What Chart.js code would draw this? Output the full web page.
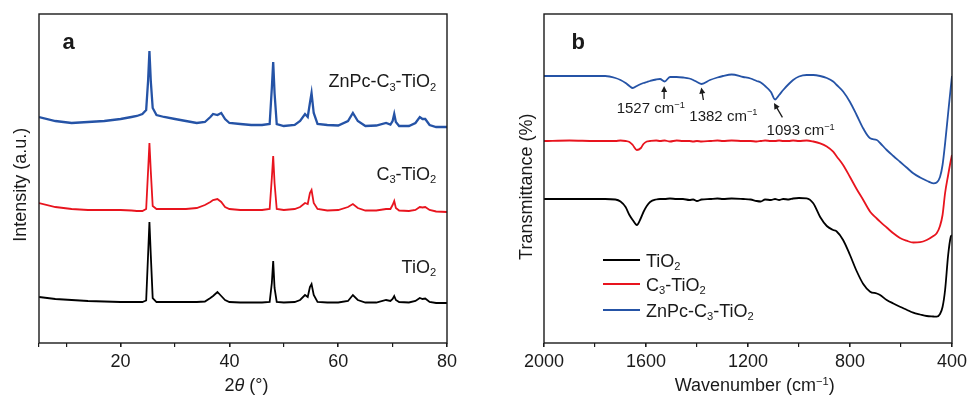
<!DOCTYPE html>
<html lang="en">
<head>
  <meta charset="UTF-8" />
  <title>XRD and FTIR of TiO2 samples</title>
  <style>
    html, body { margin: 0; padding: 0; background: #fff; }
    #wrap { position: relative; width: 971px; height: 395px; }
    .panel { position: absolute; top: 0; height: 395px; }
    #panelA { left: 0; width: 485px; }
    #panelB { left: 485px; width: 486px; }
  </style>
</head>
<body>
  <div id="wrap">
    <div class="panel" id="panelA"><canvas id="xrdChart" width="485" height="395"></canvas></div>
    <div class="panel" id="panelB"><canvas id="ftirChart" width="486" height="395"></canvas></div>
  </div>

  <script src="https://cdn.jsdelivr.net/npm/chart.js"></script>
  <script>
    // ---- data (stacked intensities in a.u.) ----
    const sampleNames = ['TiO_2', 'C_3-TiO_2', 'ZnPc-C_3-TiO_2'];

    const xrdAngle = [5, 8, 11, 14, 17, 20, 22, 23, 24, 24.7, 25.05, 25.3, 25.55, 25.9, 26.6, 28, 30, 32, 34, 35.5,
      36.5, 37, 37.8, 38.5, 39.2, 40, 42, 44, 46, 47.4, 47.8, 48.05, 48.3, 48.7, 50, 52, 53, 53.9, 54.4, 54.8,
      55.1, 55.5, 56.2, 58, 60, 61.8, 62.7, 63.6, 65, 67, 68.8, 69.6, 70, 70.3, 70.6, 71.2, 73, 74.2, 75, 75.5,
      76, 76.8, 78, 80];
    const xrdTiO2 = [46, 44, 43, 42, 41.5, 41, 41, 41, 41, 42.5, 88, 121, 88, 45, 41, 41, 41, 41, 41, 41.5,
      45, 47, 51, 47, 43, 41, 40.5, 40.5, 40.5, 41, 60, 82, 55, 41, 40.5, 41, 43, 48, 46, 56,
      59, 48, 41, 40.5, 40.5, 42, 48, 43, 40.5, 40.5, 43, 42, 44, 47, 43, 41, 40.5, 42, 45, 44,
      44.5, 41, 40, 40];
    const xrdC3TiO2 = [140, 136, 134, 133, 133, 133, 132.5, 132, 132, 134, 172, 200, 172, 137, 134, 134, 134, 134, 135, 138,
      141, 143, 144, 141, 136, 134, 133, 133, 133, 134, 165, 187, 160, 134, 133, 134, 136, 140, 139, 150,
      153, 140, 134, 132.5, 133, 136, 139, 135, 132.5, 132.5, 134, 134, 138, 142, 135, 132.5, 132, 133, 136, 135.5,
      136, 133, 131.5, 131];
    const xrdZnPc = [226, 222, 220, 221, 222, 224, 226, 227, 229, 233, 262, 292, 262, 235, 228, 226, 224, 222, 220, 221,
      226, 229, 228, 230, 224, 220, 219, 218, 218, 219, 255, 281, 250, 219, 217, 218, 222, 229, 226, 240,
      250, 230, 219, 218, 217.5, 222, 230, 222, 217, 217.5, 220, 218.5, 222, 229, 221, 217, 217, 220, 226, 224,
      224, 218, 216, 216];

    const ftirWave = [2000, 1900, 1800, 1760, 1720, 1700, 1680, 1665, 1652, 1636, 1620, 1610, 1597, 1584, 1560,
      1545, 1527, 1506, 1480, 1455, 1430, 1415, 1400, 1382, 1349, 1320, 1298, 1264, 1219, 1190, 1166, 1150,
      1133, 1110, 1094, 1078, 1062, 1040, 1023, 1000, 970, 944, 917, 891, 866, 852, 827, 800, 774, 748, 721,
      695, 682, 656, 630, 604, 578, 552, 525, 499, 473, 460, 447, 437, 427, 415, 405, 400];
    const ftirTiO2 = [144, 144, 144, 144, 143.5, 141.5, 136, 128, 123, 118, 125, 131, 137, 141, 143.5,
      144, 144, 144.5, 144, 144, 143, 143.5, 142, 143.5, 144, 144.5, 144, 144.5, 144, 143.5, 142, 141.5,
      143.5, 143, 144, 143, 144, 143.5, 144.5, 145, 144.7, 139.7, 126, 117, 113, 111.5, 103, 88, 72, 59, 51.3,
      49.5, 48, 43, 39.5, 36.3, 33.3, 30.3, 28.5, 27, 26.5, 26.3, 29, 36, 53, 88, 106, 108];
    const ftirC3TiO2 = [202, 202.5, 202, 202, 202, 202.5, 202, 201, 198, 193, 195, 199, 201.5, 202, 202.5,
      202, 202.5, 201.5, 202.5, 202, 202, 201.5, 202, 201.5, 202, 202.5, 202, 202.5, 202, 202, 201.5, 202,
      202.5, 202, 202, 202.5, 202, 202, 202.5, 202, 202.5, 201.5, 199.7, 196.5, 191.3, 186.5, 178, 166, 154, 143, 131.3,
      124.5, 121.3, 115.5, 109.7, 105, 102.3, 100.5, 100.8, 103, 107, 109.7, 117, 128, 150, 168, 182, 188];
    const ftirZnPc = [267, 267, 267, 267, 265, 263, 260, 257, 255, 257, 259, 260, 261, 262, 263.5,
      264, 261.5, 266, 266, 265.5, 264.5, 263, 261, 259, 263, 265.5, 267, 268.5, 266, 264.5, 262, 260.5,
      257, 251, 243.5, 248, 253, 259, 263, 266.5, 268, 268, 267, 265, 261.5, 258, 251.5, 241, 228, 214.5, 204.7,
      203, 200, 193, 187, 181.3, 175.5, 169.7, 165.5, 162.3, 159.7, 160.5, 166, 178, 199.7, 230, 255, 267];

    const ftirBands = [1527, 1382, 1093];

    // ---- helpers ----
    const FONT = '"Liberation Sans", Arial, sans-serif';
    const INK = '#1a1a1a';
    const COLORS = ['#000000', '#e8141e', '#2553a6'];

    function pairs(xs, ys) { return xs.map((x, i) => ({ x: x, y: ys[i] })); }

    // tiny markup: _x subscript, ^{..} superscript, ~{..} italic
    function parseRich(str) {
      const segs = [];
      let i = 0;
      while (i < str.length) {
        const c = str[i];
        if (c === '_' || c === '^' || c === '~') {
          let t;
          if (str[i + 1] === '{') { const j = str.indexOf('}', i); t = str.slice(i + 2, j); i = j + 1; }
          else { t = str[i + 1]; i += 2; }
          segs.push({ t: t, mode: c === '_' ? 'sub' : c === '^' ? 'sup' : 'it' });
        } else {
          let j = i;
          while (j < str.length && '_^~'.indexOf(str[j]) < 0) j++;
          segs.push({ t: str.slice(i, j), mode: 'n' });
          i = j;
        }
      }
      return segs;
    }

    function drawRich(ctx, str, x, y, opt) {
      const size = opt.size;
      const segs = parseRich(str);
      const fontFor = s => (s.mode === 'it' ? 'italic ' : '') + (opt.bold ? 'bold ' : '') +
        ((s.mode === 'sub' || s.mode === 'sup') ? size * 0.62 : size) + 'px ' + FONT;
      ctx.save();
      ctx.translate(x, y);
      if (opt.rotate) ctx.rotate(opt.rotate);
      ctx.textBaseline = 'alphabetic';
      ctx.textAlign = 'left';
      ctx.fillStyle = opt.color || INK;
      let w = 0;
      segs.forEach(s => { ctx.font = fontFor(s); s.w = ctx.measureText(s.t).width; w += s.w; });
      let cx = opt.align === 'right' ? -w : opt.align === 'center' ? -w / 2 : 0;
      segs.forEach(s => {
        ctx.font = fontFor(s);
        const dy = s.mode === 'sub' ? size * 0.18 : s.mode === 'sup' ? -size * 0.36 : 0;
        ctx.fillText(s.t, cx, dy);
        cx += s.w;
      });
      ctx.restore();
    }

    function drawFrame(ctx, a) {
      ctx.save();
      ctx.strokeStyle = INK;
      ctx.lineWidth = 1.4;
      ctx.strokeRect(a.left, a.top, a.right - a.left, a.bottom - a.top);
      ctx.restore();
    }

    function arrow(ctx, x1, y1, x2, y2) {
      const ang = Math.atan2(y2 - y1, x2 - x1);
      const hl = 6, hw = 3;
      ctx.save();
      ctx.strokeStyle = INK;
      ctx.fillStyle = INK;
      ctx.lineWidth = 1.3;
      ctx.beginPath();
      ctx.moveTo(x1, y1);
      ctx.lineTo(x2 - Math.cos(ang) * hl * 0.8, y2 - Math.sin(ang) * hl * 0.8);
      ctx.stroke();
      ctx.beginPath();
      ctx.moveTo(x2, y2);
      ctx.lineTo(x2 - Math.cos(ang) * hl - Math.sin(ang) * hw, y2 - Math.sin(ang) * hl + Math.cos(ang) * hw);
      ctx.lineTo(x2 - Math.cos(ang) * hl + Math.sin(ang) * hw, y2 - Math.sin(ang) * hl - Math.cos(ang) * hw);
      ctx.closePath();
      ctx.fill();
      ctx.restore();
    }

    function xAxis(min, max, step, every, reverse) {
      return {
        type: 'linear', min: min, max: max, reverse: !!reverse,
        afterFit: s => { s.height = 52; },
        border: { display: false },
        grid: {
          display: true, drawOnChartArea: false, drawTicks: true, tickLength: 4, color: INK,
          lineWidth: c => (c.tick && c.tick.value % every === 0 ? 1.6 : 1.2)
        },
        ticks: {
          stepSize: step, autoSkip: false, maxRotation: 0, padding: 4, color: INK,
          font: { family: FONT, size: 18 },
          callback: v => (v % every === 0 ? String(v) : '')
        }
      };
    }

    Chart.defaults.font.family = FONT;

    // ---- panel a: XRD ----
    const xrdDecor = {
      id: 'xrdDecor',
      afterDraw(chart) {
        const { ctx, chartArea: a, scales: { x, y } } = chart;
        drawFrame(ctx, a);
        drawRich(ctx, 'a', a.left + 23.5, a.top + 35, { size: 22, bold: true });
        const labelY = [70.3, 163, 255.7];
        sampleNames.forEach((n, i) => {
          drawRich(ctx, n, x.getPixelForValue(78), y.getPixelForValue(labelY[i]), { size: 18, align: 'right' });
        });
        drawRich(ctx, '2~{θ} (°)', 246.5, 391, { size: 18, align: 'center' });
        drawRich(ctx, 'Intensity (a.u.)', 26.2, 184.7, { size: 18, align: 'center', rotate: -Math.PI / 2 });
      }
    };

    new Chart(document.getElementById('xrdChart'), {
      type: 'line',
      data: {
        datasets: [
          { label: sampleNames[0], data: pairs(xrdAngle, xrdTiO2), borderColor: COLORS[0], borderWidth: 1.8 },
          { label: sampleNames[1], data: pairs(xrdAngle, xrdC3TiO2), borderColor: COLORS[1], borderWidth: 1.8 },
          { label: sampleNames[2], data: pairs(xrdAngle, xrdZnPc), borderColor: COLORS[2], borderWidth: 2.3 }
        ]
      },
      options: {
        responsive: false,
        animation: false,
        layout: { padding: { left: 39, right: 38, top: 14, bottom: 0 } },
        elements: { point: { radius: 0 }, line: { tension: 0, fill: false } },
        plugins: { legend: { display: false }, tooltip: { enabled: false } },
        scales: {
          x: xAxis(5, 80, 10, 20, false),
          y: { display: false, min: 0, max: 329 }
        }
      },
      plugins: [xrdDecor]
    });

    // ---- panel b: FTIR ----
    const ftirDecor = {
      id: 'ftirDecor',
      afterDraw(chart) {
        const { ctx, chartArea: a, scales: { x, y } } = chart;
        drawFrame(ctx, a);
        drawRich(ctx, 'b', a.left + 27.5, a.top + 35, { size: 22, bold: true });

        // band annotations: label anchor (left, baseline) and arrow tail -> tip, in data units
        const notes = [
          { lx: 1715, ly: 229.7, from: [1529, 244], to: [1529, 257] },
          { lx: 1430, ly: 222.3, from: [1375, 243], to: [1383, 255.5] },
          { lx: 1127, ly: 208, from: [1065, 225.7], to: [1098, 240] }
        ];
        ftirBands.forEach((b, i) => {
          const n = notes[i];
          drawRich(ctx, b + ' cm^{−1}', x.getPixelForValue(n.lx), y.getPixelForValue(n.ly), { size: 15 });
          arrow(ctx, x.getPixelForValue(n.from[0]), y.getPixelForValue(n.from[1]),
            x.getPixelForValue(n.to[0]), y.getPixelForValue(n.to[1]));
        });

        // legend
        const rowY = [260, 284, 310];
        chart.data.datasets.forEach((ds, i) => {
          ctx.save();
          ctx.strokeStyle = ds.borderColor;
          ctx.lineWidth = 2;
          ctx.beginPath();
          ctx.moveTo(603 - 485, rowY[i]);
          ctx.lineTo(640 - 485, rowY[i]);
          ctx.stroke();
          ctx.restore();
          drawRich(ctx, ds.label, 646 - 485, rowY[i] + 6.5, { size: 18 });
        });

        drawRich(ctx, 'Wavenumber (cm^{−1})', 269.7, 391, { size: 18, align: 'center' });
        drawRich(ctx, 'Transmittance (%)', 47.2, 186.7, { size: 18, align: 'center', rotate: -Math.PI / 2 });
      }
    };

    new Chart(document.getElementById('ftirChart'), {
      type: 'line',
      data: {
        datasets: [
          { label: sampleNames[0], data: pairs(ftirWave, ftirTiO2), borderColor: COLORS[0], borderWidth: 1.8 },
          { label: sampleNames[1], data: pairs(ftirWave, ftirC3TiO2), borderColor: COLORS[1], borderWidth: 1.8 },
          { label: sampleNames[2], data: pairs(ftirWave, ftirZnPc), borderColor: COLORS[2], borderWidth: 1.8 }
        ]
      },
      options: {
        responsive: false,
        animation: false,
        layout: { padding: { left: 59, right: 19, top: 14, bottom: 0 } },
        elements: { point: { radius: 0 }, line: { cubicInterpolationMode: 'monotone', fill: false } },
        plugins: { legend: { display: false }, tooltip: { enabled: false } },
        scales: {
          x: xAxis(400, 2000, 200, 400, true),
          y: { display: false, min: 0, max: 329 }
        }
      },
      plugins: [ftirDecor]
    });
  </script>
</body>
</html>
